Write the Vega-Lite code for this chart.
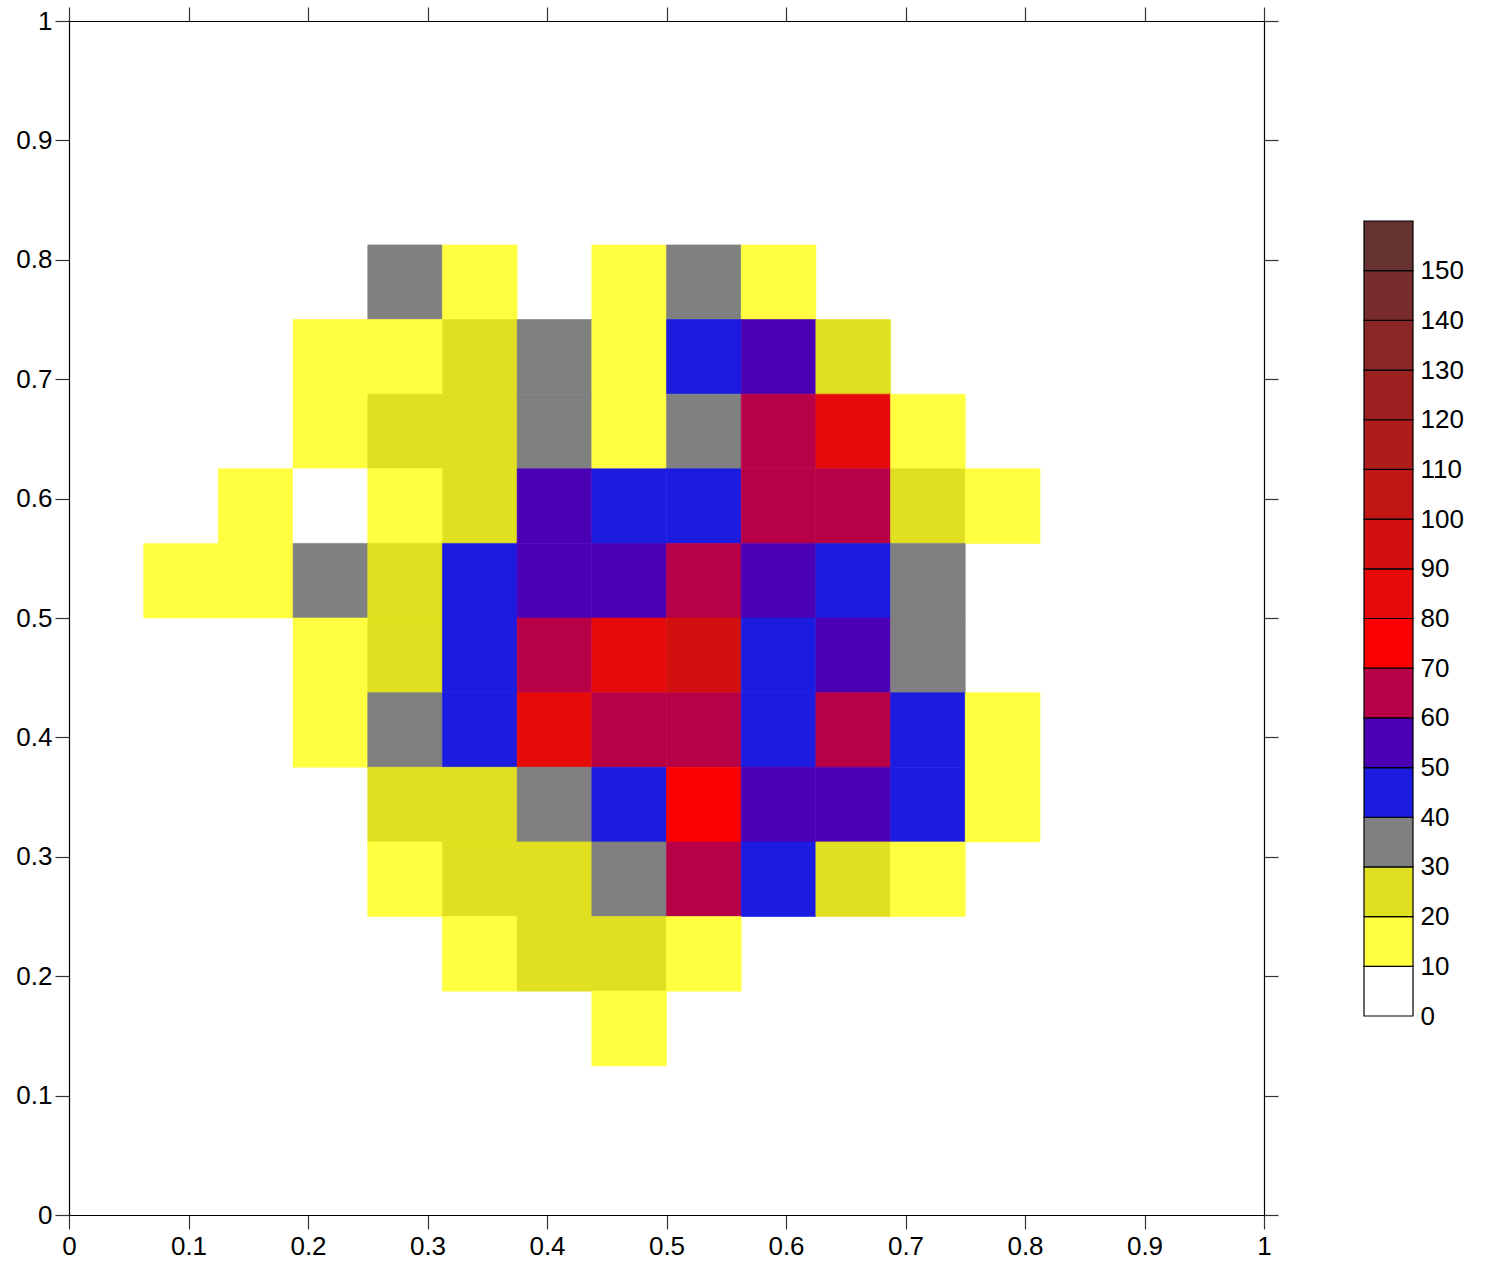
{
  "$schema": "https://vega.github.io/schema/vega-lite/v6.json",
  "background": "white",
  "padding": {"left": 3, "top": 6, "right": 5, "bottom": 5},
  "config": {
    "view": {"stroke": null},
    "axis": {
      "labelFont": "Liberation Sans",
      "labelFontSize": 26,
      "labelColor": "black",
      "labelFlush": false,
      "labelOverlap": false,
      "domainColor": "black",
      "domainWidth": 1.2,
      "tickColor": "#333333",
      "tickWidth": 1.2,
      "tickSize": 14,
      "grid": false,
      "title": null
    }
  },
  "datasets": {
    "cells": [
      {"x0": 0.25, "x1": 0.3125, "y0": 0.75, "y1": 0.8125, "count": 35},
      {"x0": 0.3125, "x1": 0.375, "y0": 0.75, "y1": 0.8125, "count": 15},
      {"x0": 0.4375, "x1": 0.5, "y0": 0.75, "y1": 0.8125, "count": 15},
      {"x0": 0.5, "x1": 0.5625, "y0": 0.75, "y1": 0.8125, "count": 35},
      {"x0": 0.5625, "x1": 0.625, "y0": 0.75, "y1": 0.8125, "count": 15},

      {"x0": 0.1875, "x1": 0.25, "y0": 0.6875, "y1": 0.75, "count": 15},
      {"x0": 0.25, "x1": 0.3125, "y0": 0.6875, "y1": 0.75, "count": 15},
      {"x0": 0.3125, "x1": 0.375, "y0": 0.6875, "y1": 0.75, "count": 25},
      {"x0": 0.375, "x1": 0.4375, "y0": 0.6875, "y1": 0.75, "count": 35},
      {"x0": 0.4375, "x1": 0.5, "y0": 0.6875, "y1": 0.75, "count": 15},
      {"x0": 0.5, "x1": 0.5625, "y0": 0.6875, "y1": 0.75, "count": 45},
      {"x0": 0.5625, "x1": 0.625, "y0": 0.6875, "y1": 0.75, "count": 55},
      {"x0": 0.625, "x1": 0.6875, "y0": 0.6875, "y1": 0.75, "count": 25},

      {"x0": 0.1875, "x1": 0.25, "y0": 0.625, "y1": 0.6875, "count": 15},
      {"x0": 0.25, "x1": 0.3125, "y0": 0.625, "y1": 0.6875, "count": 25},
      {"x0": 0.3125, "x1": 0.375, "y0": 0.625, "y1": 0.6875, "count": 25},
      {"x0": 0.375, "x1": 0.4375, "y0": 0.625, "y1": 0.6875, "count": 35},
      {"x0": 0.4375, "x1": 0.5, "y0": 0.625, "y1": 0.6875, "count": 15},
      {"x0": 0.5, "x1": 0.5625, "y0": 0.625, "y1": 0.6875, "count": 35},
      {"x0": 0.5625, "x1": 0.625, "y0": 0.625, "y1": 0.6875, "count": 65},
      {"x0": 0.625, "x1": 0.6875, "y0": 0.625, "y1": 0.6875, "count": 85},
      {"x0": 0.6875, "x1": 0.75, "y0": 0.625, "y1": 0.6875, "count": 15},

      {"x0": 0.125, "x1": 0.1875, "y0": 0.5625, "y1": 0.625, "count": 15},
      {"x0": 0.1875, "x1": 0.25, "y0": 0.5625, "y1": 0.625, "count": 5},
      {"x0": 0.25, "x1": 0.3125, "y0": 0.5625, "y1": 0.625, "count": 15},
      {"x0": 0.3125, "x1": 0.375, "y0": 0.5625, "y1": 0.625, "count": 25},
      {"x0": 0.375, "x1": 0.4375, "y0": 0.5625, "y1": 0.625, "count": 55},
      {"x0": 0.4375, "x1": 0.5, "y0": 0.5625, "y1": 0.625, "count": 45},
      {"x0": 0.5, "x1": 0.5625, "y0": 0.5625, "y1": 0.625, "count": 45},
      {"x0": 0.5625, "x1": 0.625, "y0": 0.5625, "y1": 0.625, "count": 65},
      {"x0": 0.625, "x1": 0.6875, "y0": 0.5625, "y1": 0.625, "count": 65},
      {"x0": 0.6875, "x1": 0.75, "y0": 0.5625, "y1": 0.625, "count": 25},
      {"x0": 0.75, "x1": 0.8125, "y0": 0.5625, "y1": 0.625, "count": 15},

      {"x0": 0.0625, "x1": 0.125, "y0": 0.5, "y1": 0.5625, "count": 15},
      {"x0": 0.125, "x1": 0.1875, "y0": 0.5, "y1": 0.5625, "count": 15},
      {"x0": 0.1875, "x1": 0.25, "y0": 0.5, "y1": 0.5625, "count": 35},
      {"x0": 0.25, "x1": 0.3125, "y0": 0.5, "y1": 0.5625, "count": 25},
      {"x0": 0.3125, "x1": 0.375, "y0": 0.5, "y1": 0.5625, "count": 45},
      {"x0": 0.375, "x1": 0.4375, "y0": 0.5, "y1": 0.5625, "count": 55},
      {"x0": 0.4375, "x1": 0.5, "y0": 0.5, "y1": 0.5625, "count": 55},
      {"x0": 0.5, "x1": 0.5625, "y0": 0.5, "y1": 0.5625, "count": 65},
      {"x0": 0.5625, "x1": 0.625, "y0": 0.5, "y1": 0.5625, "count": 55},
      {"x0": 0.625, "x1": 0.6875, "y0": 0.5, "y1": 0.5625, "count": 45},
      {"x0": 0.6875, "x1": 0.75, "y0": 0.5, "y1": 0.5625, "count": 35},

      {"x0": 0.1875, "x1": 0.25, "y0": 0.4375, "y1": 0.5, "count": 15},
      {"x0": 0.25, "x1": 0.3125, "y0": 0.4375, "y1": 0.5, "count": 25},
      {"x0": 0.3125, "x1": 0.375, "y0": 0.4375, "y1": 0.5, "count": 45},
      {"x0": 0.375, "x1": 0.4375, "y0": 0.4375, "y1": 0.5, "count": 65},
      {"x0": 0.4375, "x1": 0.5, "y0": 0.4375, "y1": 0.5, "count": 85},
      {"x0": 0.5, "x1": 0.5625, "y0": 0.4375, "y1": 0.5, "count": 95},
      {"x0": 0.5625, "x1": 0.625, "y0": 0.4375, "y1": 0.5, "count": 45},
      {"x0": 0.625, "x1": 0.6875, "y0": 0.4375, "y1": 0.5, "count": 55},
      {"x0": 0.6875, "x1": 0.75, "y0": 0.4375, "y1": 0.5, "count": 35},

      {"x0": 0.1875, "x1": 0.25, "y0": 0.375, "y1": 0.4375, "count": 15},
      {"x0": 0.25, "x1": 0.3125, "y0": 0.375, "y1": 0.4375, "count": 35},
      {"x0": 0.3125, "x1": 0.375, "y0": 0.375, "y1": 0.4375, "count": 45},
      {"x0": 0.375, "x1": 0.4375, "y0": 0.375, "y1": 0.4375, "count": 85},
      {"x0": 0.4375, "x1": 0.5, "y0": 0.375, "y1": 0.4375, "count": 65},
      {"x0": 0.5, "x1": 0.5625, "y0": 0.375, "y1": 0.4375, "count": 65},
      {"x0": 0.5625, "x1": 0.625, "y0": 0.375, "y1": 0.4375, "count": 45},
      {"x0": 0.625, "x1": 0.6875, "y0": 0.375, "y1": 0.4375, "count": 65},
      {"x0": 0.6875, "x1": 0.75, "y0": 0.375, "y1": 0.4375, "count": 45},
      {"x0": 0.75, "x1": 0.8125, "y0": 0.375, "y1": 0.4375, "count": 15},

      {"x0": 0.25, "x1": 0.3125, "y0": 0.3125, "y1": 0.375, "count": 25},
      {"x0": 0.3125, "x1": 0.375, "y0": 0.3125, "y1": 0.375, "count": 25},
      {"x0": 0.375, "x1": 0.4375, "y0": 0.3125, "y1": 0.375, "count": 35},
      {"x0": 0.4375, "x1": 0.5, "y0": 0.3125, "y1": 0.375, "count": 45},
      {"x0": 0.5, "x1": 0.5625, "y0": 0.3125, "y1": 0.375, "count": 75},
      {"x0": 0.5625, "x1": 0.625, "y0": 0.3125, "y1": 0.375, "count": 55},
      {"x0": 0.625, "x1": 0.6875, "y0": 0.3125, "y1": 0.375, "count": 55},
      {"x0": 0.6875, "x1": 0.75, "y0": 0.3125, "y1": 0.375, "count": 45},
      {"x0": 0.75, "x1": 0.8125, "y0": 0.3125, "y1": 0.375, "count": 15},

      {"x0": 0.25, "x1": 0.3125, "y0": 0.25, "y1": 0.3125, "count": 15},
      {"x0": 0.3125, "x1": 0.375, "y0": 0.25, "y1": 0.3125, "count": 25},
      {"x0": 0.375, "x1": 0.4375, "y0": 0.25, "y1": 0.3125, "count": 25},
      {"x0": 0.4375, "x1": 0.5, "y0": 0.25, "y1": 0.3125, "count": 35},
      {"x0": 0.5, "x1": 0.5625, "y0": 0.25, "y1": 0.3125, "count": 65},
      {"x0": 0.5625, "x1": 0.625, "y0": 0.25, "y1": 0.3125, "count": 45},
      {"x0": 0.625, "x1": 0.6875, "y0": 0.25, "y1": 0.3125, "count": 25},
      {"x0": 0.6875, "x1": 0.75, "y0": 0.25, "y1": 0.3125, "count": 15},

      {"x0": 0.3125, "x1": 0.375, "y0": 0.1875, "y1": 0.25, "count": 15},
      {"x0": 0.375, "x1": 0.4375, "y0": 0.1875, "y1": 0.25, "count": 25},
      {"x0": 0.4375, "x1": 0.5, "y0": 0.1875, "y1": 0.25, "count": 25},
      {"x0": 0.5, "x1": 0.5625, "y0": 0.1875, "y1": 0.25, "count": 15},

      {"x0": 0.4375, "x1": 0.5, "y0": 0.125, "y1": 0.1875, "count": 15}
    ],
    "bands": [
      {"lo": 0, "hi": 10, "mid": 5},
      {"lo": 10, "hi": 20, "mid": 15},
      {"lo": 20, "hi": 30, "mid": 25},
      {"lo": 30, "hi": 40, "mid": 35},
      {"lo": 40, "hi": 50, "mid": 45},
      {"lo": 50, "hi": 60, "mid": 55},
      {"lo": 60, "hi": 70, "mid": 65},
      {"lo": 70, "hi": 80, "mid": 75},
      {"lo": 80, "hi": 90, "mid": 85},
      {"lo": 90, "hi": 100, "mid": 95},
      {"lo": 100, "hi": 110, "mid": 105},
      {"lo": 110, "hi": 120, "mid": 115},
      {"lo": 120, "hi": 130, "mid": 125},
      {"lo": 130, "hi": 140, "mid": 135},
      {"lo": 140, "hi": 150, "mid": 145},
      {"lo": 150, "hi": 160, "mid": 155}
    ]
  },
  "spacing": 100,
  "bounds": "flush",
  "resolve": {"scale": {"color": "independent"}},
  "hconcat": [
    {
      "width": 1195,
      "height": 1194,
      "data": {"name": "cells"},
      "layer": [
        {
          "mark": {"type": "rect", "strokeWidth": 0.6},
          "encoding": {
            "x": {
              "field": "x0", "type": "quantitative",
              "scale": {"domain": [0, 1], "nice": false, "zero": false},
              "axis": {"orient": "bottom", "values": [0, 0.1, 0.2, 0.3, 0.4, 0.5, 0.6, 0.7, 0.8, 0.9, 1], "format": "~g", "labelPadding": 4}
            },
            "x2": {"field": "x1"},
            "y": {
              "field": "y0", "type": "quantitative",
              "scale": {"domain": [0, 1], "nice": false, "zero": false},
              "axis": {"orient": "left", "values": [0, 0.1, 0.2, 0.3, 0.4, 0.5, 0.6, 0.7, 0.8, 0.9, 1], "format": "~g", "labelPadding": 3, "minExtent": 66, "maxExtent": 66}
            },
            "y2": {"field": "y1"},
            "color": {
              "field": "count", "type": "quantitative",
              "scale": {"type": "threshold", "domain": [10, 20, 30, 40, 50, 60, 70, 80, 90, 100, 110, 120, 130, 140, 150],
                "range": ["#ffffff", "#ffff40", "#e0e020", "#808080", "#1c1ce0", "#4b00b4", "#b80046", "#fa0000", "#e60a0a", "#d21010", "#c21616", "#ae1c1c", "#9c2020", "#8a2626", "#782c2c", "#663333"]},
              "legend": null
            },
            "stroke": {
              "field": "count", "type": "quantitative",
              "scale": {"type": "threshold", "domain": [10, 20, 30, 40, 50, 60, 70, 80, 90, 100, 110, 120, 130, 140, 150],
                "range": ["#ffffff", "#ffff40", "#e0e020", "#808080", "#1c1ce0", "#4b00b4", "#b80046", "#fa0000", "#e60a0a", "#d21010", "#c21616", "#ae1c1c", "#9c2020", "#8a2626", "#782c2c", "#663333"]},
              "legend": null
            }
          }
        },
        {
          "mark": {"type": "rect", "opacity": 0},
          "encoding": {
            "x": {
              "field": "x0", "type": "quantitative",
              "axis": {"orient": "top", "values": [0, 0.1, 0.2, 0.3, 0.4, 0.5, 0.6, 0.7, 0.8, 0.9, 1], "labels": false, "minExtent": 14, "maxExtent": 14}
            },
            "x2": {"field": "x1"},
            "y": {
              "field": "y0", "type": "quantitative",
              "axis": {"orient": "right", "values": [0, 0.1, 0.2, 0.3, 0.4, 0.5, 0.6, 0.7, 0.8, 0.9, 1], "labels": false}
            },
            "y2": {"field": "y1"}
          }
        }
      ],
      "resolve": {"axis": {"x": "independent", "y": "independent"}}
    },
    {
      "width": 49,
      "height": 1194,
      "data": {"name": "bands"},
      "mark": {"type": "rect", "stroke": "black", "strokeWidth": 1.2},
      "encoding": {
        "y": {
          "field": "lo", "type": "quantitative",
          "scale": {"domain": [-40.05, 200.25], "nice": false, "zero": false},
          "axis": {"orient": "right", "values": [0, 10, 20, 30, 40, 50, 60, 70, 80, 90, 100, 110, 120, 130, 140, 150], "ticks": false, "domain": false, "labelPadding": 7}
        },
        "y2": {"field": "hi"},
        "color": {
          "field": "mid", "type": "quantitative",
          "scale": {"type": "threshold", "domain": [10, 20, 30, 40, 50, 60, 70, 80, 90, 100, 110, 120, 130, 140, 150],
            "range": ["#ffffff", "#ffff40", "#e0e020", "#808080", "#1c1ce0", "#4b00b4", "#b80046", "#fa0000", "#e60a0a", "#d21010", "#c21616", "#ae1c1c", "#9c2020", "#8a2626", "#782c2c", "#663333"]},
          "legend": null
        }
      }
    }
  ]
}
